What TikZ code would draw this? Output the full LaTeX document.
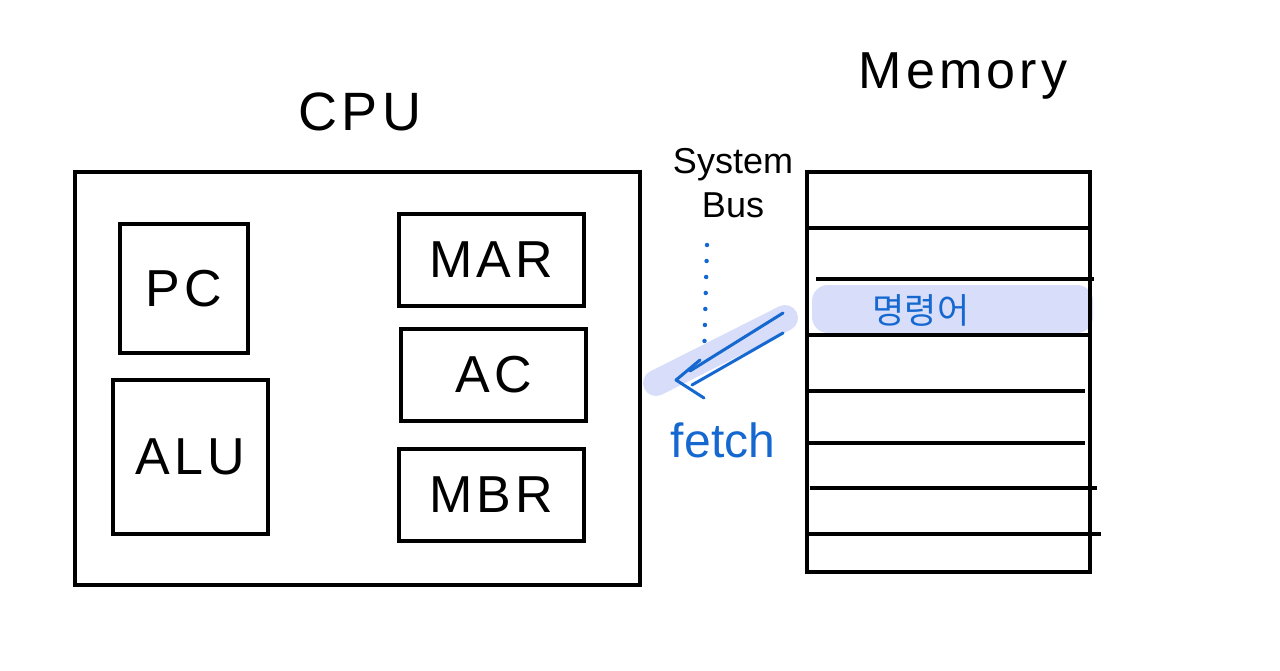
\documentclass[tikz,border=0pt]{standalone}
\usepackage{fontspec}
\setmainfont{Liberation Sans}
\newfontfamily\handfont[LetterSpace=8]{Liberation Sans}
\newfontfamily\krfont{Noto Sans CJK KR}
\usepackage{tikz}

\definecolor{penblue}{RGB}{20,104,208}
\definecolor{marker}{RGB}{216,221,250}

\begin{document}
\begin{tikzpicture}[x=1pt, y=-1pt]

% Set the overall frame of the picture
\useasboundingbox (0,0) rectangle (1280,671);

% Define styles for boxes and labels
\tikzstyle{box} = [draw=black, line width=3.2pt, inner sep=0pt]
\tikzstyle{reg} = [box, font=\handfont\fontsize{52}{60}\selectfont]
\tikzstyle{title} = [font=\handfont\fontsize{54}{62}\selectfont]
\tikzstyle{note} = [font=\fontsize{35}{40}\selectfont, inner sep=0pt]
\tikzstyle{row} = [black, line width=3.2pt]

%Define blue pen and lavender marker
\tikzstyle{pen} = [penblue, line width=3pt, line cap=round, line join=round]
\tikzstyle{hl} = [marker, line cap=round]

% CPU and its registers
\node[title] (cputitle) at (360,112) {CPU};
\node[box, minimum width=565pt, minimum height=413pt] (cpu) at (357.5,378.5) {};
\node[reg, minimum width=128pt, minimum height=129pt] (pc) at (184,288.5) {PC};
\node[reg, minimum width=155pt, minimum height=154pt] (alu) at (190.5,457) {ALU};
\node[reg, minimum width=185pt, minimum height=92pt] (mar) at (491.5,260) {MAR};
\node[reg, minimum width=185pt, minimum height=92pt] (ac) at (493.5,375) {AC};
\node[reg, minimum width=185pt, minimum height=92pt] (mbr) at (491.5,495) {MBR};

% Memory
\node[title, font=\handfont\fontsize{52}{60}\selectfont] (memtitle) at (963,76) {Memory};
\fill[marker, rounded corners=16pt] (812,285) rectangle (1093,333);
\node[box, minimum width=283pt, minimum height=400pt] (mem) at (948.5,372) {};
\draw[row] (807,228) -- (1090,228);
\draw[row] (816,279) -- (1094,279);
\draw[row] (807,335) -- (1090,335);
\draw[row] (807,391) -- (1085,391);
\draw[row] (807,443) -- (1085,443);
\draw[row] (810,488) -- (1097,488);
\draw[row] (805,534) -- (1101,534);
\node[note, text=penblue] (instr) at (921,310) {\krfont 명령어};

% System bus and fetch
\node[note, font=\fontsize{36}{42}\selectfont, align=center] (bus) at (733,183) {System\\[2pt]Bus};
\coordinate (dotend) at (704,360);
\draw[pen, line width=4.5pt, dash pattern=on 0pt off 16pt] (707,245) -- (dotend);

\coordinate (tip) at (676,380);
\coordinate (tailA) at (783,313);
\coordinate (tailB) at (783,333);
\coordinate (shaftA) at (690,371);
\coordinate (shaftB) at (692,385);
\coordinate (armA) at (700,360);
\coordinate (armB) at (704,398);
\draw[hl, line width=26pt] (785,318) -- (656,383);
\draw[pen] (tailA) -- (shaftA);
\draw[pen] (tailB) -- (shaftB);
\draw[pen] (armA) -- (tip) -- (armB);
\node[note, font=\fontsize{48}{54}\selectfont, text=penblue] (fetch) at (723,440) {fetch};

\end{tikzpicture}
\end{document}
